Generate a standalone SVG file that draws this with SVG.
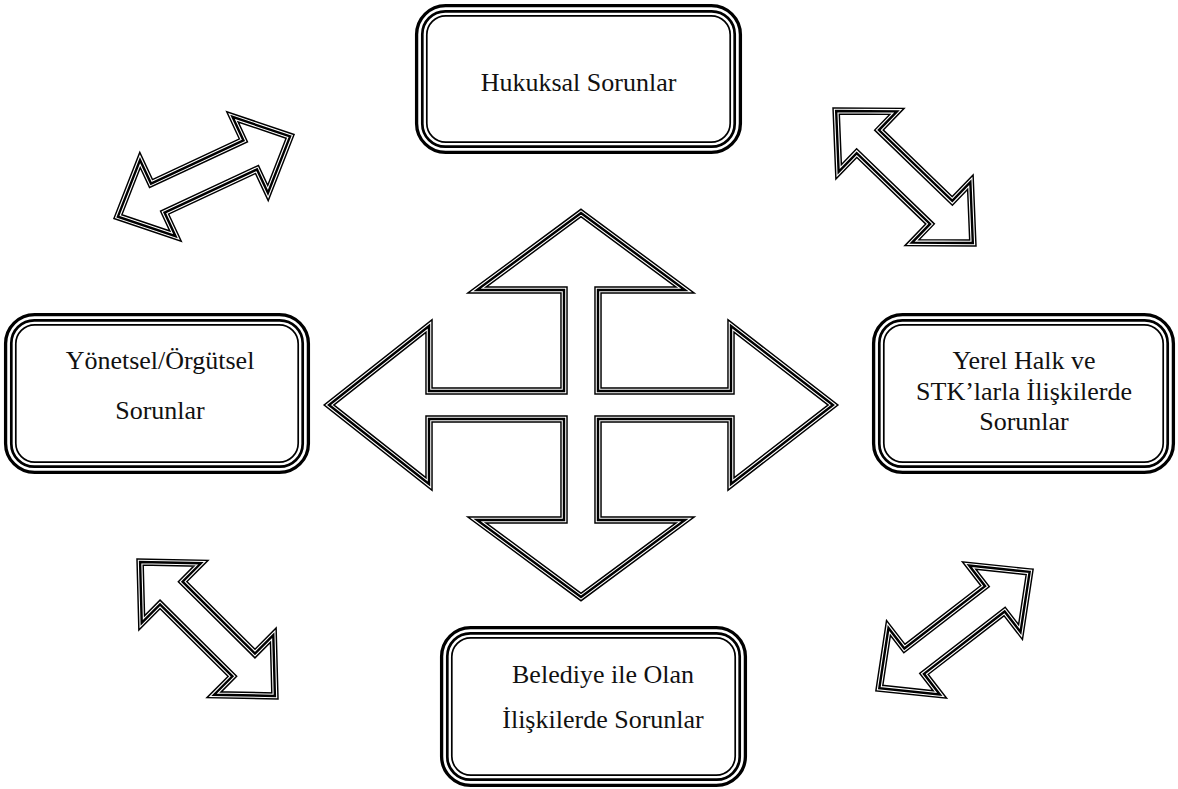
<svg xmlns="http://www.w3.org/2000/svg" xmlns:xlink="http://www.w3.org/1999/xlink" width="1178" height="789" viewBox="0 0 1178 789">
<style>
.bg{fill:#ffffff}
.o1{fill:#ffffff;stroke:#000;stroke-width:3.3}
.o2{fill:none;stroke:#000;stroke-width:2.7}
.o3{fill:none;stroke:#000;stroke-width:1.7}
.a1{fill:#ffffff;stroke:#000;stroke-width:7.5;stroke-linejoin:miter;stroke-miterlimit:10}
.a2{fill:none;stroke:#ffffff;stroke-width:4.6;stroke-linejoin:miter;stroke-miterlimit:10}
.a3{fill:none;stroke:#000;stroke-width:2.4;stroke-linejoin:miter;stroke-miterlimit:10}
.t{font-family:"Liberation Serif","Times New Roman",serif;font-size:26px;fill:#111;text-anchor:middle}
</style>
<defs>
<path id="dbl" d="M95,0 L51,-42 L51,-16 L-51,-16 L-51,-42 L-95,0 L-51,42 L-51,16 L51,16 L51,42 Z"/>
<path id="cross" d="M581,213 L685,290 L598,290 L598,391 L731,391 L731,326 L833,405 L731,484 L731,419 L598,419 L598,520 L685,520 L581,597 L477,520 L564,520 L564,419 L429,419 L429,484 L329,405 L429,326 L429,391 L564,391 L564,290 L477,290 Z"/>
</defs>
<rect class="bg" x="0" y="0" width="1178" height="789"/>

<g id="connectors">
<g id="cross-arrow">
<use xlink:href="#cross" class="a1"/>
<use xlink:href="#cross" class="a2"/>
<use xlink:href="#cross" class="a3"/>
</g>
<g id="arrow-tl" transform="translate(204,176.5) rotate(-25)">
<use xlink:href="#dbl" class="a1"/>
<use xlink:href="#dbl" class="a2"/>
<use xlink:href="#dbl" class="a3"/>
</g>
<g id="arrow-tr" transform="translate(904.5,177) rotate(44)">
<use xlink:href="#dbl" class="a1"/>
<use xlink:href="#dbl" class="a2"/>
<use xlink:href="#dbl" class="a3"/>
</g>
<g id="arrow-bl" transform="translate(207.5,629) rotate(44.8)">
<use xlink:href="#dbl" class="a1"/>
<use xlink:href="#dbl" class="a2"/>
<use xlink:href="#dbl" class="a3"/>
</g>
<g id="arrow-br" transform="translate(954.5,630) rotate(-37.7)">
<use xlink:href="#dbl" class="a1"/>
<use xlink:href="#dbl" class="a2"/>
<use xlink:href="#dbl" class="a3"/>
</g>
</g>

<g id="node-hukuksal">
<rect class="o1" x="416.6" y="5.6" width="323.8" height="146.8" rx="29" ry="29"/>
<rect class="o2" x="422.3" y="11.3" width="312.4" height="135.4" rx="23" ry="23"/>
<rect class="o3" x="426.8" y="15.8" width="303.4" height="126.4" rx="19" ry="19"/>
<text class="t" x="578.5" y="91">Hukuksal Sorunlar</text>
</g>

<g id="node-yonetsel">
<rect class="o1" x="5.6" y="314.6" width="302.8" height="157.8" rx="29" ry="29"/>
<rect class="o2" x="11.3" y="320.3" width="291.4" height="146.4" rx="23" ry="23"/>
<rect class="o3" x="15.8" y="324.8" width="282.4" height="137.4" rx="19" ry="19"/>
<text class="t" x="160" y="369">Yönetsel/Örgütsel</text>
<text class="t" x="160" y="419">Sorunlar</text>
</g>

<g id="node-yerel">
<rect class="o1" x="873.6" y="314.6" width="299.8" height="157.8" rx="29" ry="29"/>
<rect class="o2" x="879.3" y="320.3" width="288.4" height="146.4" rx="23" ry="23"/>
<rect class="o3" x="883.8" y="324.8" width="279.4" height="137.4" rx="19" ry="19"/>
<text class="t" x="1024" y="369">Yerel Halk ve</text>
<text class="t" x="1024" y="400">STK’larla İlişkilerde</text>
<text class="t" x="1024" y="430">Sorunlar</text>
</g>

<g id="node-belediye">
<rect class="o1" x="441.6" y="627.6" width="303.8" height="157.8" rx="29" ry="29"/>
<rect class="o2" x="447.3" y="633.3" width="292.4" height="146.4" rx="23" ry="23"/>
<rect class="o3" x="451.8" y="637.8" width="283.4" height="137.4" rx="19" ry="19"/>
<text class="t" x="603" y="683">Belediye ile Olan</text>
<text class="t" x="603" y="728">İlişkilerde Sorunlar</text>
</g>
</svg>
